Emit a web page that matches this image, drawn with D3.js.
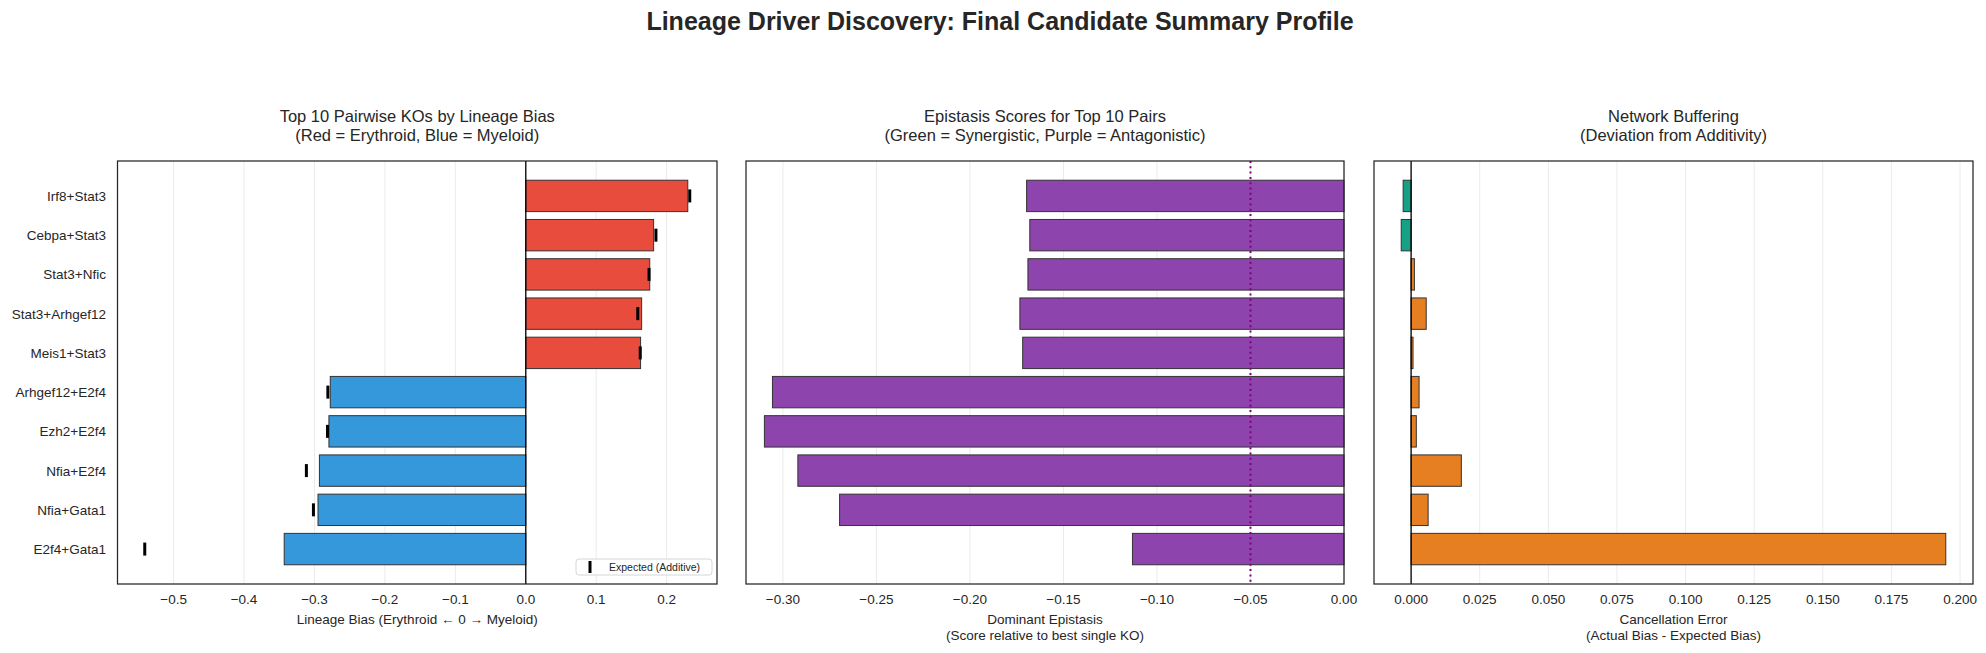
<!DOCTYPE html>
<html>
<head>
<meta charset="utf-8">
<script src="https://cdn.jsdelivr.net/npm/d3@7"></script>
<style>
  body { margin: 0; background: #fff; }
  svg { display: block; font-family: "Liberation Sans", Arial, sans-serif; }
</style>
</head>
<body>
<script>

// pairs, top to bottom
var pairs = ["Irf8+Stat3", "Cebpa+Stat3", "Stat3+Nfic", "Stat3+Arhgef12", "Meis1+Stat3",
	"Arhgef12+E2f4", "Ezh2+E2f4", "Nfia+E2f4", "Nfia+Gata1", "E2f4+Gata1"];

var actualBias   = [0.2300, 0.1815, 0.1760, 0.1645, 0.1630, -0.2776, -0.2795, -0.2930, -0.2950, -0.3430];
var expectedBias = [0.2328, 0.1848, 0.1750, 0.1590, 0.1625, -0.2810, -0.2815, -0.3115, -0.3015, -0.5410];
var epistasis    = [-0.1697, -0.1680, -0.1690, -0.1733, -0.1718, -0.3056, -0.3099, -0.2920, -0.2697, -0.1131];
var cancelError  = [-0.0029, -0.0036, 0.0012, 0.0055, 0.0007, 0.0029, 0.0019, 0.0183, 0.0062, 0.1948];

var biasTicks = [-0.5, -0.4, -0.3, -0.2, -0.1, 0.0, 0.1, 0.2];
var epiTicks  = [-0.30, -0.25, -0.20, -0.15, -0.10, -0.05, 0.00];
var errTicks  = [0.000, 0.025, 0.050, 0.075, 0.100, 0.125, 0.150, 0.175, 0.200];

var epiThreshold = -0.05;

var W = 1986, H = 653;
var plotTop = 161, plotBottom = 584;
var panels = [
	{left: 117.5, right: 717},
	{left: 746, right: 1344},
	{left: 1374, right: 1973}
];

var svg = d3.select("body").append("svg")
	.attr("width", W)
	.attr("height", H);

svg.append("text")
	.attr("x", W / 2 + 7)
	.attr("y", 30)
	.attr("text-anchor", "middle")
	.style("font-size", "25px")
	.style("font-weight", "bold")
	.style("fill", "#262626")
	.text("Lineage Driver Discovery: Final Candidate Summary Profile");

// matplotlib style auto limits (5% margins, sticky at 0 for bars)
function padded(vals, stickyZero) {
	var lo = d3.min(vals), hi = d3.max(vals);
	var m = (hi - lo) * 0.05;
	lo = (stickyZero && lo >= 0) ? 0 : lo - m;
	hi = (stickyZero && hi <= 0) ? 0 : hi + m;
	return [lo, hi];
}

// categorical y: bars 0.8 high, 5% margin
var yPad = 0.05 * (pairs.length - 1 + 0.8);
var y = d3.scaleLinear()
	.domain([-0.4 - yPad, pairs.length - 1 + 0.4 + yPad])
	.range([plotTop, plotBottom]);
var barH = y(0.8) - y(0);

function makePanel(p, domain, ticks, fmt, titles, xlabels) {
	var x = d3.scaleLinear().domain(domain).range([p.left, p.right]);
	var g = svg.append("g");

	// grid
	g.selectAll(".grid").data(ticks).enter().append("line")
		.attr("x1", d => x(d)).attr("x2", d => x(d))
		.attr("y1", plotTop).attr("y2", plotBottom)
		.style("stroke", "#ebebeb")
		.style("stroke-width", 1);

	// tick labels
	g.selectAll(".xtick").data(ticks).enter().append("text")
		.attr("x", d => x(d))
		.attr("y", plotBottom + 20)
		.attr("text-anchor", "middle")
		.style("font-size", "13.5px")
		.style("fill", "#262626")
		.text(d => fmt(d));

	titles.forEach(function(t, i) {
		g.append("text")
			.attr("x", (p.left + p.right) / 2)
			.attr("y", 122 + i * 19)
			.attr("text-anchor", "middle")
			.style("font-size", "16.5px")
			.style("fill", "#262626")
			.text(t);
	});

	xlabels.forEach(function(t, i) {
		g.append("text")
			.attr("x", (p.left + p.right) / 2)
			.attr("y", 624 + i * 16)
			.attr("text-anchor", "middle")
			.style("font-size", "13.5px")
			.style("fill", "#262626")
			.text(t);
	});

	return {x: x, g: g};
}

function drawBars(g, x, vals, colorFn) {
	g.selectAll(".bar").data(vals).enter().append("rect")
		.attr("x", d => Math.min(x(0), x(d)))
		.attr("width", d => Math.abs(x(d) - x(0)))
		.attr("y", (d, i) => y(i) - barH / 2)
		.attr("height", barH)
		.style("fill", colorFn)
		.style("stroke", "#333")
		.style("stroke-width", 1);
}

function frame(p) {
	svg.append("rect")
		.attr("x", p.left).attr("y", plotTop)
		.attr("width", p.right - p.left).attr("height", plotBottom - plotTop)
		.style("fill", "none")
		.style("stroke", "#262626")
		.style("stroke-width", 1.25);
}

function zeroLine(g, x) {
	g.append("line")
		.attr("x1", x(0)).attr("x2", x(0))
		.attr("y1", plotTop).attr("y2", plotBottom)
		.style("stroke", "#000")
		.style("stroke-width", 1.3);
}

// ---- panel 1: lineage bias
var p1 = makePanel(panels[0], padded(actualBias.concat(expectedBias), true), biasTicks, d3.format(".1f"),
	["Top 10 Pairwise KOs by Lineage Bias", "(Red = Erythroid, Blue = Myeloid)"],
	["Lineage Bias (Erythroid \u2190 0 \u2192 Myeloid)"]);
drawBars(p1.g, p1.x, actualBias, d => d > 0 ? "#e74c3c" : "#3498db");
zeroLine(p1.g, p1.x);
p1.g.selectAll(".exp").data(expectedBias).enter().append("line")
	.attr("x1", d => p1.x(d)).attr("x2", d => p1.x(d))
	.attr("y1", (d, i) => y(i) - 6.5).attr("y2", (d, i) => y(i) + 6.5)
	.style("stroke", "#000")
	.style("stroke-width", 3);

// y tick labels
svg.selectAll(".ylab").data(pairs).enter().append("text")
	.attr("x", panels[0].left - 11.5)
	.attr("y", (d, i) => y(i) + 5)
	.attr("text-anchor", "end")
	.style("font-size", "13.5px")
	.style("fill", "#262626")
	.text(d => d);

// legend
var leg = svg.append("g").attr("transform", "translate(576,559)");
leg.append("rect")
	.attr("width", 136).attr("height", 16).attr("rx", 3)
	.style("fill", "#fff").style("fill-opacity", 0.8)
	.style("stroke", "#d6d6d6");
leg.append("line")
	.attr("x1", 14).attr("x2", 14).attr("y1", 2).attr("y2", 14)
	.style("stroke", "#000").style("stroke-width", 3);
leg.append("text")
	.attr("x", 33).attr("y", 12)
	.style("font-size", "10.5px")
	.style("fill", "#262626")
	.text("Expected (Additive)");
frame(panels[0]);

// ---- panel 2: epistasis
var p2 = makePanel(panels[1], padded(epistasis, true), epiTicks, d3.format(".2f"),
	["Epistasis Scores for Top 10 Pairs", "(Green = Synergistic, Purple = Antagonistic)"],
	["Dominant Epistasis", "(Score relative to best single KO)"]);
drawBars(p2.g, p2.x, epistasis, d => d > 0 ? "#27ae60" : "#8e44ad");
p2.g.append("line")
	.attr("x1", p2.x(epiThreshold)).attr("x2", p2.x(epiThreshold))
	.attr("y1", plotTop).attr("y2", plotBottom)
	.style("stroke", "#800080")
	.style("stroke-width", 2)
	.style("stroke-dasharray", "2,3.3");
frame(panels[1]);

// ---- panel 3: network buffering
var p3 = makePanel(panels[2], padded(cancelError, true), errTicks, d3.format(".3f"),
	["Network Buffering", "(Deviation from Additivity)"],
	["Cancellation Error", "(Actual Bias - Expected Bias)"]);
drawBars(p3.g, p3.x, cancelError, d => d < 0 ? "#16a085" : "#e67e22");
zeroLine(p3.g, p3.x);
frame(panels[2]);

</script>
</body>
</html>
